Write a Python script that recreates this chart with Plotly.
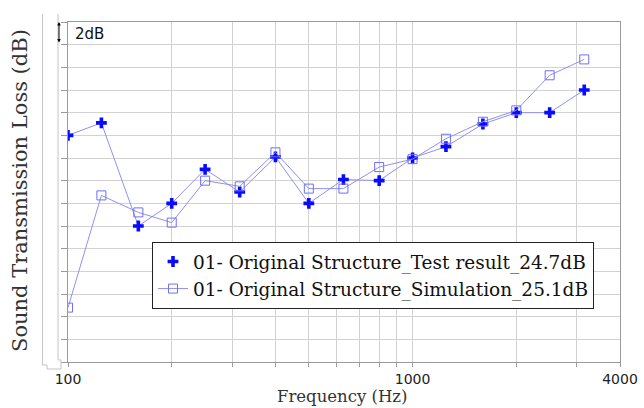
import plotly.graph_objects as go

# ---- data ----
freq = [100, 125, 160, 200, 250, 315, 400, 500, 630, 800, 1000, 1250, 1600, 2000, 2500, 3150]
test_tl = [26.0, 27.1, 18.0, 20.0, 23.0, 21.0, 24.1, 20.0, 22.1, 22.0, 24.0, 25.0, 27.0, 28.0, 28.0, 30.0]
sim_tl = [10.8, 20.7, 19.2, 18.3, 22.0, 21.5, 24.5, 21.3, 21.3, 23.2, 23.9, 25.7, 27.2, 28.2, 31.3, 32.7]
test_name = "01- Original Structure_Test result_24.7dB"
sim_name = "01- Original Structure_Simulation_25.1dB"
x_grid = [100, 200, 300, 400, 500, 600, 700, 800, 900, 1000, 2000, 3000, 4000]
x_labels = ["100", "", "", "", "", "", "", "", "", "1000", "", "", "4000"]

W, H = 644, 408
ML, MR, MT, MB = 68, 24, 22, 46
pw, ph = W - ML - MR, H - MT - MB

def px2x(px):
    return (px - ML) / pw

def py2y(py):
    return (H - MB - py) / ph

line_c = "#9090ee"
fig = go.Figure()
fig.add_trace(go.Scatter(
    x=freq, y=test_tl, mode="lines", showlegend=False, hoverinfo="skip",
    line=dict(color=line_c, width=1),
))
fig.add_trace(go.Scatter(
    x=freq, y=test_tl, name=test_name, mode="markers",
    marker=dict(symbol="cross", size=9, color="#0a0aff", line=dict(width=0)),
))
fig.add_trace(go.Scatter(
    x=freq, y=sim_tl, name=sim_name, mode="lines+markers",
    line=dict(color=line_c, width=1),
    marker=dict(symbol="square-open", size=9, color="#6e6eff", line=dict(width=1)),
))

grid_c = "#d2d2d2"
axis_c = "#9a9a9a"
fig.update_xaxes(
    type="log", range=[2, 3.60206], tickvals=x_grid, ticktext=x_labels,
    showgrid=True, gridcolor=grid_c, gridwidth=1,
    ticks="outside", ticklen=4, tickcolor=axis_c,
    showline=True, linecolor=axis_c, linewidth=1, mirror=True,
    tickfont=dict(family="DejaVu Sans", size=14, color="#222"),
    zeroline=False, automargin=False,
)
fig.update_yaxes(
    range=[6, 36], tick0=0, dtick=2, showticklabels=False,
    showgrid=True, gridcolor=grid_c, gridwidth=1,
    ticks="outside", ticklen=6, tickcolor=axis_c,
    showline=True, linecolor=axis_c, linewidth=1, mirror=True,
    zeroline=False, automargin=False,
)

serif = "DejaVu Serif"
annotations = [
    dict(text="Frequency (Hz)", x=px2x(342), y=py2y(407.5), xref="paper", yref="paper",
         showarrow=False, xanchor="center", yanchor="bottom",
         font=dict(family=serif, size=16.5, color="#333")),
    dict(text="Sound Transmission Loss (dB)", x=px2x(20), y=py2y(191), xref="paper", yref="paper",
         showarrow=False, textangle=-90, xanchor="center", yanchor="middle",
         font=dict(family=serif, size=21, color="#333")),
    dict(text="2dB", x=px2x(73), y=py2y(34), xref="paper", yref="paper",
         showarrow=False, xanchor="left", yanchor="middle",
         font=dict(family="DejaVu Sans", size=15, color="#111")),
    dict(text="", x=px2x(59), y=py2y(22), xref="paper", yref="paper",
         showarrow=True, ax=0, ay=22, arrowside="end+start", arrowhead=2,
         arrowsize=0.7, arrowwidth=1, arrowcolor="#000"),
]

def pts(points):
    s = ""
    for i, (a, b) in enumerate(points):
        s += ("M" if i == 0 else "L") + f"{px2x(a):.4f},{py2y(b):.4f} "
    return s

shapes = [
    dict(type="path", xref="paper", yref="paper",
         path=pts([(42.5, 14), (42.5, 365), (47, 365), (47, 369), (61, 369), (61, 360)]),
         line=dict(color="#c4c4c4", width=1)),
    dict(type="path", xref="paper", yref="paper",
         path=pts([(58, 14), (58, 360), (61, 360)]),
         line=dict(color="#c4c4c4", width=1)),
]

fig.update_layout(
    width=W, height=H, margin=dict(l=ML, r=MR, t=MT, b=MB),
    paper_bgcolor="white", plot_bgcolor="white",
    showlegend=True,
    legend=dict(x=px2x(152), y=py2y(242), xanchor="left", yanchor="top",
                bgcolor="white", bordercolor="#222", borderwidth=1,
                font=dict(family=serif, size=18.5, color="#111"),
                tracegroupgap=0),
    annotations=annotations, shapes=shapes,
)

fig.write_html("out.html")
